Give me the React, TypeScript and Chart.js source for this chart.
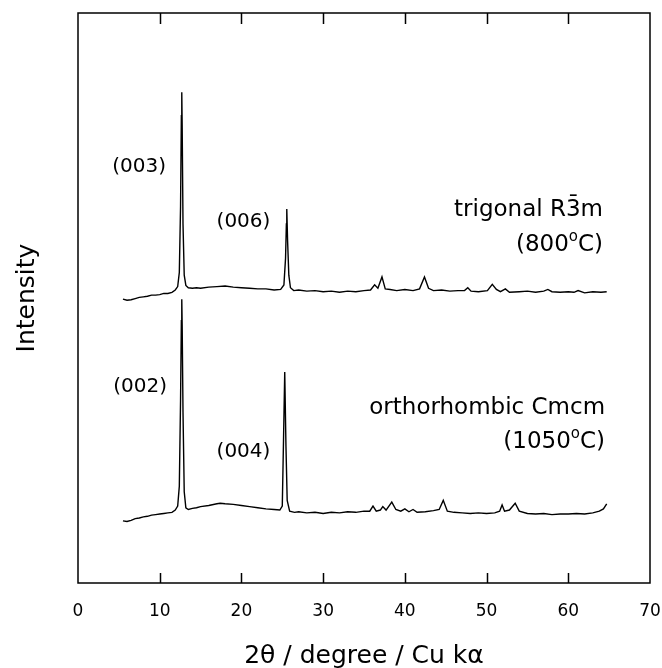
import React, { useEffect, useRef } from "react";
import { Chart, registerables } from "chart.js";

Chart.register(...registerables);

// ---- data (2θ in degrees, intensity in arbitrary units) ----
const trigonalTheta = [5.5, 6.0, 6.5, 7.0, 7.5, 8.0, 8.5, 9.0, 9.5, 10.0, 10.5, 11.0, 11.5, 11.9, 12.2, 12.4, 12.55, 12.65, 12.7, 12.75, 12.85, 13.0, 13.2, 13.5, 14, 14.5, 15, 16, 17, 18, 19, 20, 21, 22, 23, 24, 24.8, 25.2, 25.4, 25.5, 25.55, 25.65, 25.8, 26.0, 26.4, 27, 28, 29, 30, 31, 32, 33, 34, 35, 35.8, 36.3, 36.7, 37.2, 37.6, 38.2, 39, 40, 41, 41.8, 42.4, 42.9, 43.5, 44.5, 45.5, 46.5, 47.3, 47.7, 48.1, 49, 50.1, 50.7, 51.2, 51.7, 52.3, 52.8, 54, 55, 56, 57.0, 57.5, 58.0, 59, 60, 60.7, 61.2, 62, 63, 64, 64.7];
const trigonalIntensity = [49.8, 49.6, 49.7, 49.9, 50.1, 50.2, 50.3, 50.5, 50.5, 50.6, 50.8, 50.8, 51.0, 51.4, 52.0, 54.5, 66, 82, 86.1, 80, 63, 54, 52.2, 51.8, 51.7, 51.8, 51.7, 51.9, 52.0, 52.1, 51.9, 51.8, 51.7, 51.6, 51.6, 51.4, 51.5, 52.3, 57, 63, 65.6, 60, 54, 51.8, 51.3, 51.4, 51.2, 51.3, 51.1, 51.2, 51.0, 51.2, 51.1, 51.3, 51.4, 52.3, 51.7, 53.7, 51.6, 51.5, 51.3, 51.5, 51.3, 51.6, 53.7, 51.7, 51.3, 51.4, 51.2, 51.3, 51.3, 51.8, 51.2, 51.1, 51.3, 52.4, 51.5, 51.1, 51.6, 51.0, 51.1, 51.2, 51.0, 51.2, 51.5, 51.1, 51.0, 51.1, 51.0, 51.3, 50.9, 51.1, 51.0, 51.1];

const orthoTheta = [5.5, 6.0, 6.5, 7.0, 7.5, 8.0, 8.5, 9.0, 9.5, 10.0, 10.5, 11.0, 11.5, 11.9, 12.2, 12.4, 12.55, 12.65, 12.7, 12.75, 12.85, 13.0, 13.2, 13.5, 14, 14.5, 15, 16, 17, 17.4, 18, 19, 20, 21, 22, 23, 24, 24.7, 25.0, 25.15, 25.3, 25.45, 25.6, 25.9, 26.5, 27, 28, 29, 30, 31, 32, 33, 34, 35, 35.7, 36.1, 36.5, 37.0, 37.3, 37.7, 38.4, 38.9, 39.5, 40.0, 40.5, 41.0, 41.5, 42.5, 43.5, 44.2, 44.7, 45.2, 46, 47, 48, 49, 50, 51, 51.6, 51.9, 52.2, 52.8, 53.5, 54.0, 55, 56, 57, 58, 59, 60, 61, 62, 63, 63.8, 64.3, 64.7];
const orthoIntensity = [10.9, 10.8, 11.0, 11.3, 11.4, 11.6, 11.7, 11.9, 12.0, 12.1, 12.2, 12.3, 12.4, 12.8, 13.5, 17, 32, 46, 49.8, 45, 30, 16, 13.2, 12.9, 13.1, 13.2, 13.4, 13.6, 13.9, 14.0, 13.9, 13.8, 13.6, 13.4, 13.2, 13.0, 12.9, 12.8, 13.5, 25, 37.0, 24, 14.5, 12.6, 12.4, 12.5, 12.3, 12.4, 12.2, 12.4, 12.3, 12.5, 12.4, 12.6, 12.6, 13.5, 12.6, 12.8, 13.4, 12.8, 14.2, 12.9, 12.6, 13.0, 12.5, 12.9, 12.4, 12.5, 12.7, 12.9, 14.5, 12.6, 12.4, 12.3, 12.2, 12.3, 12.2, 12.3, 12.6, 13.7, 12.6, 12.8, 14.0, 12.6, 12.2, 12.1, 12.2, 12.0, 12.1, 12.1, 12.2, 12.1, 12.3, 12.6, 13.0, 13.9];

const xTicks = [0, 10, 20, 30, 40, 50, 60, 70];
const peakLabels = ["(003)", "(006)", "(002)", "(004)"];
const phaseLabels = ["trigonal R3\u0304m", "orthorhombic Cmcm"];
const tempLabels = ["800", "1050"];
const xTitle = "2\u03b8 / degree / Cu k\u03b1";
const yTitle = "Intensity";

const FONT = "'DejaVu Sans', sans-serif";

const annotationPlugin = {
  id: "xrdAnnotations",
  afterDraw(chart: any) {
    const { ctx, chartArea, scales } = chart;
    const xs = scales.x;
    const ys = scales.y;
    ctx.save();
    // frame
    ctx.strokeStyle = "#000";
    ctx.lineWidth = 1.5;
    ctx.strokeRect(chartArea.left, chartArea.top, chartArea.right - chartArea.left, chartArea.bottom - chartArea.top);
    // inside ticks top & bottom
    ctx.lineWidth = 1.5;
    for (const t of xTicks) {
      if (t === xTicks[0] || t === xTicks[xTicks.length - 1]) continue;
      const px = Math.round(xs.getPixelForValue(t)) + 0.5;
      ctx.beginPath();
      ctx.moveTo(px, chartArea.bottom);
      ctx.lineTo(px, chartArea.bottom - 10);
      ctx.moveTo(px, chartArea.top);
      ctx.lineTo(px, chartArea.top + 11);
      ctx.stroke();
    }
    ctx.fillStyle = "#000";
    ctx.textBaseline = "middle";
    // peak labels
    ctx.font = `20px ${FONT}`;
    ctx.textAlign = "center";
    const peakPos = [
      [7.47, 73.0],
      [20.25, 63.3],
      [7.6, 34.4],
      [20.25, 23.0],
    ];
    peakLabels.forEach((lab, i) => {
      ctx.fillText(lab, xs.getPixelForValue(peakPos[i][0]), ys.getPixelForValue(peakPos[i][1]));
    });
    // phase labels (right aligned)
    ctx.textAlign = "right";
    ctx.font = `23px ${FONT}`;
    const phasePos = [
      [64.25, 65.4],
      [64.5, 30.7],
    ];
    phaseLabels.forEach((lab, i) => {
      ctx.fillText(lab, xs.getPixelForValue(phasePos[i][0]), ys.getPixelForValue(phasePos[i][1]));
    });
    // temperature labels with superscript o
    const tempPos = [
      [64.25, 59.3],
      [64.5, 24.7],
    ];
    tempLabels.forEach((t, i) => {
      const right = xs.getPixelForValue(tempPos[i][0]);
      const y = ys.getPixelForValue(tempPos[i][1]);
      const big = `23px ${FONT}`;
      const small = `15px ${FONT}`;
      ctx.font = big;
      const tail = "C)";
      const wTail = ctx.measureText(tail).width;
      const head = "(" + t;
      const wHead = ctx.measureText(head).width;
      ctx.font = small;
      const wO = ctx.measureText("o").width;
      ctx.textAlign = "left";
      let x = right - wTail - wO - wHead;
      ctx.font = big;
      ctx.fillText(head, x, y);
      x += wHead;
      ctx.font = small;
      ctx.fillText("o", x, y - 8);
      x += wO;
      ctx.font = big;
      ctx.fillText(tail, x, y);
      ctx.textAlign = "right";
    });
    ctx.restore();
  },
};

export default function App() {
  const ref = useRef<HTMLCanvasElement | null>(null);
  useEffect(() => {
    if (!ref.current) return;
    const chart = new Chart(ref.current, {
      type: "line",
      data: {
        datasets: [
          {
            label: "trigonal",
            data: trigonalTheta.map((x, i) => ({ x, y: trigonalIntensity[i] })),
            borderColor: "#000",
            borderWidth: 1.4,
            pointRadius: 0,
            tension: 0,
            fill: false,
          },
          {
            label: "orthorhombic",
            data: orthoTheta.map((x, i) => ({ x, y: orthoIntensity[i] })),
            borderColor: "#000",
            borderWidth: 1.4,
            pointRadius: 0,
            tension: 0,
            fill: false,
          },
        ],
      },
      options: {
        responsive: false,
        animation: false,
        layout: { padding: { left: 0, right: 12, top: 13, bottom: 0 } },
        plugins: { legend: { display: false }, tooltip: { enabled: false } },
        scales: {
          x: {
            type: "linear",
            min: 0,
            max: 70,
            afterFit: (s: any) => {
              s.height = 85;
              s.paddingLeft = 0;
              s.paddingRight = 0;
            },
            afterBuildTicks: (s: any) => {
              s.ticks = xTicks.map((v) => ({ value: v }));
            },
            grid: { display: false, drawTicks: false },
            border: { display: false },
            ticks: {
              color: "#000",
              padding: 18,
              font: { family: FONT, size: 17 },
              maxRotation: 0,
            },
            title: {
              display: true,
              text: xTitle,
              color: "#000",
              font: { family: FONT, size: 25 },
              padding: { top: 0, bottom: -3 },
            },
          },
          y: {
            type: "linear",
            min: 0,
            max: 100,
            afterFit: (s: any) => {
              s.width = 78;
              s.paddingTop = 0;
              s.paddingBottom = 0;
            },
            grid: { display: false, drawTicks: false },
            border: { display: false },
            ticks: { display: false },
            title: {
              display: true,
              text: yTitle,
              color: "#000",
              font: { family: FONT, size: 25 },
              padding: { top: 12, bottom: 0 },
            },
          },
        },
      },
      plugins: [annotationPlugin],
    });
    return () => chart.destroy();
  }, []);
  return (
    <canvas
      ref={ref}
      width={662}
      height={668}
      style={{ position: "absolute", left: 0, top: 0, background: "#fff" }}
    />
  );
}
